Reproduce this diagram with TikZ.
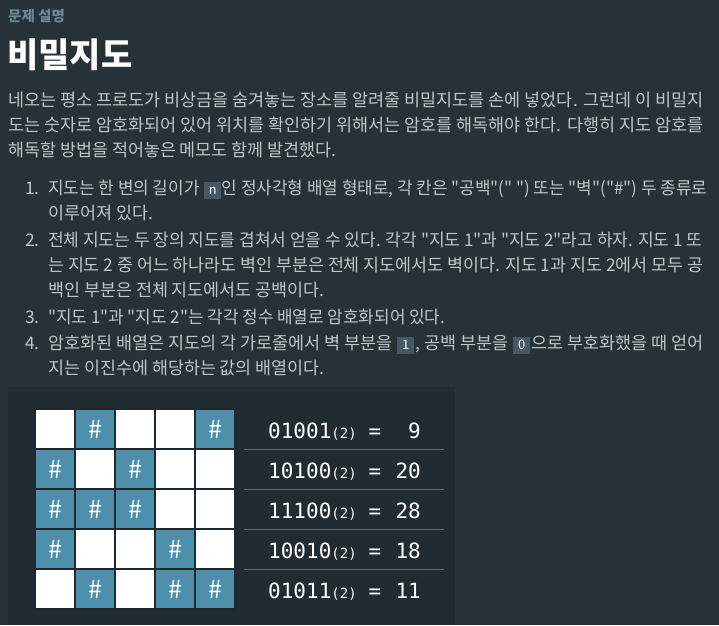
\documentclass[tikz,border=0pt]{standalone}
\usepackage{fontspec}
\usepackage{graphicx}
\setmainfont{Noto Sans CJK KR}[Ligatures=TeXOff]
\newfontfamily\monofont{DejaVu Sans Mono}
\usetikzlibrary{positioning}
\definecolor{pgbg}{RGB}{38,50,56}
\definecolor{pgimg}{RGB}{33,44,50}
\definecolor{pgtext}{RGB}{190,197,202}
\definecolor{pgsub}{RGB}{112,134,146}
\definecolor{pgwall}{RGB}{78,144,172}
\definecolor{pgcode}{RGB}{70,88,99}
\definecolor{pgline}{RGB}{98,106,112}
\definecolor{pgedge}{RGB}{30,40,46}
\setlength{\fboxsep}{3pt}
\newcommand{\codebit}[1]{\hspace{1pt}\colorbox{pgcode}{\makebox[11pt]{\color{white}\fontsize{13}{13}\selectfont\rule[-2pt]{0pt}{11pt}#1}}\hspace{1pt}}
\newcommand{\fitline}[2]{\resizebox{#1}{\height}{#2}}

\begin{document}
\begin{tikzpicture}[%
    x=1pt,y=-1pt,
    textline/.style={anchor=base west,inner sep=0,text=pgtext,font=\fontsize{17.4}{20}\selectfont},
    numbox/.style={textline,anchor=base east},
    cell/.style={draw=pgedge,line width=1.5pt,minimum size=40pt,inner sep=0,fill=#1,text=white,font=\fontsize{25}{25}\selectfont},
    cell/.default=white,
    bintext/.style={anchor=base west,inner sep=0,text=white,font=\monofont\fontsize{21}{21}\selectfont},
    sepline/.style={draw=pgline,line width=1pt}
    ]
    \useasboundingbox[fill=pgbg] (0,0) rectangle (719,625);
    \fill[pgimg] (8,387) rectangle (455,625);
    %%% Kop
    \node[anchor=base west,inner sep=0,text=pgsub,font=\fontsize{14.5}{14.5}\selectfont\bfseries] (kop) at (8,21) {문제 설명};
    \node[anchor=base west,inner sep=0,text=white,font=\fontsize{34}{34}\selectfont\bfseries] (titel) at (7,67) {비밀지도};
    %%% Inleiding
    \node[textline] (intro1) at (8,106) {\fitline{695pt}{네오는 평소 프로도가 비상금을 숨겨놓는 장소를 알려줄 비밀지도를 손에 넣었다. 그런데 이 비밀지}};
    \node[textline] (intro2) at (8,131) {\fitline{695pt}{도는 숫자로 암호화되어 있어 위치를 확인하기 위해서는 암호를 해독해야 한다. 다행히 지도 암호를}};
    \node[textline] (intro3) at (8,156) {해독할 방법을 적어놓은 메모도 함께 발견했다.};
    %%% Lijst
    \node[numbox] (num1) at (40,194) {1.};
    \node[textline] (item1a) at (48,194) {\fitline{659pt}{지도는 한 변의 길이가 \codebit{n}인 정사각형 배열 형태로, 각 칸은 "공백"(" ") 또는 "벽"("\#") 두 종류로}};
    \node[textline] (item1b) at (48,219) {이루어져 있다.};
    \node[numbox] (num2) at (40,246) {2.};
    \node[textline] (item2a) at (48,246) {\fitline{654pt}{전체 지도는 두 장의 지도를 겹쳐서 얻을 수 있다. 각각 "지도 1"과 "지도 2"라고 하자. 지도 1 또}};
    \node[textline] (item2b) at (48,271) {\fitline{655pt}{는 지도 2 중 어느 하나라도 벽인 부분은 전체 지도에서도 벽이다. 지도 1과 지도 2에서 모두 공}};
    \node[textline] (item2c) at (48,296) {백인 부분은 전체 지도에서도 공백이다.};
    \node[numbox] (num3) at (40,323) {3.};
    \node[textline] (item3a) at (48,323) {\fitline{397pt}{"지도 1"과 "지도 2"는 각각 정수 배열로 암호화되어 있다.}};
    \node[numbox] (num4) at (40,349) {4.};
    \node[textline] (item4a) at (48,349) {\fitline{655pt}{암호화된 배열은 지도의 각 가로줄에서 벽 부분을 \codebit{1}, 공백 부분을 \codebit{0}으로 부호화했을 때 얻어}};
    \node[textline] (item4b) at (48,374) {지는 이진수에 해당하는 값의 배열이다.};
    %%% Kaart
    \foreach \r/\bits in {1/{0,1,0,0,1},2/{1,0,1,0,0},3/{1,1,1,0,0},4/{1,0,0,1,0},5/{0,1,0,1,1}}
      \foreach \b [count=\c] in \bits {
        \ifnum\b=1
          \node[cell=pgwall] (cell-\r-\c) at (15+40*\c,389+40*\r) {\#};
        \else
          \node[cell] (cell-\r-\c) at (15+40*\c,389+40*\r) {};
        \fi
      };
    %%% Binaire rijen
    \foreach \r/\bin/\dec in {1/01001/9,2/10100/20,3/11100/28,4/10010/18,5/01011/11} {
      \node[bintext] (bin-\r) at (268,398+40*\r) {\bin{\fontsize{14}{14}\selectfont(2)}};
      \node[bintext,anchor=base] (eq-\r) at (375,398+40*\r) {=};
      \node[bintext,anchor=base east] (dec-\r) at (421,398+40*\r) {\dec};
    }
    \foreach \y in {449,489,529,569}
      \path[sepline] (244,\y) -- (444,\y);
\end{tikzpicture}
\end{document}
